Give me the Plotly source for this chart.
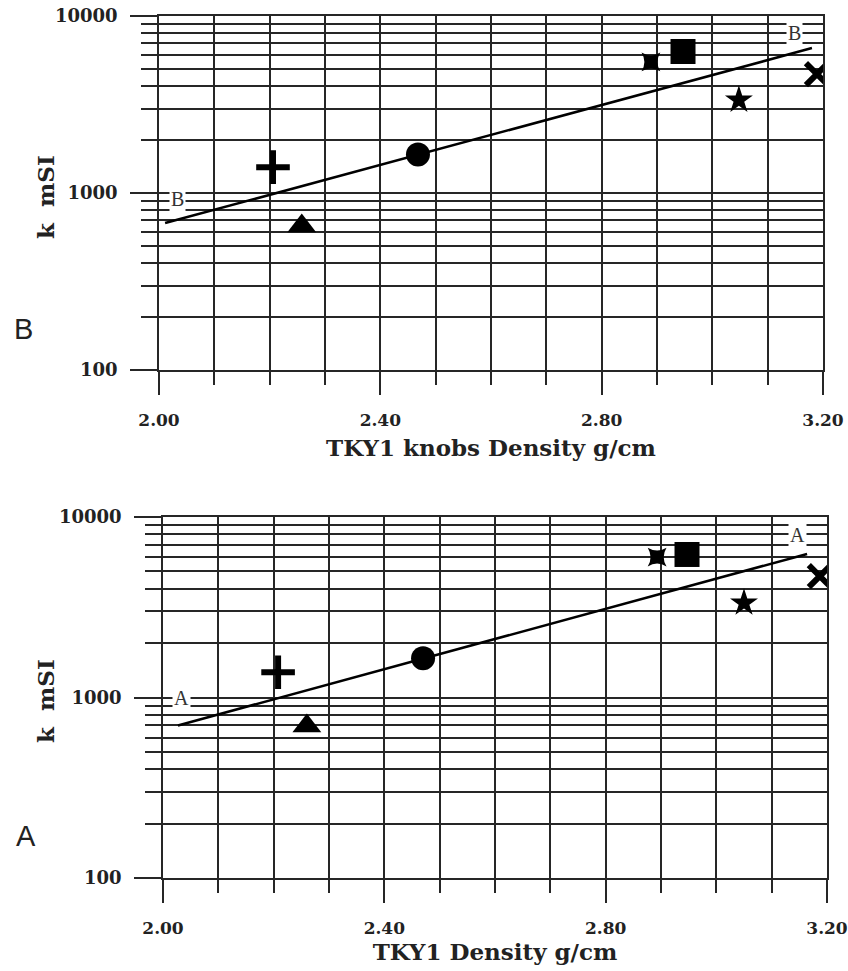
import plotly.graph_objects as go

# Magnetic susceptibility k (mSI) against density for the TKY1 samples
samples = ["plus", "triangle", "circle", "asterisk", "square", "star", "cross"]
symbols = ["cross-thin", "triangle-up", "circle", "star-diamond", "square", "star", "x-thin"]
sizes = [24, 25, 24, 19, 25, 21, 22]
angles = [0, 0, 0, 45, 0, 0, 0]
line_widths = [6, 0, 0, 0, 0, 0, 6]

# Panel B: knobs density
density_b = [2.206, 2.258, 2.468, 2.889, 2.947, 3.048, 3.189]
k_b = [1400, 650, 1650, 5500, 6300, 3350, 4700]
fit_b_x = [2.011, 3.180]
fit_b_k = [676, 6590]

# Panel A: whole-rock density
density_a = [2.208, 2.260, 2.470, 2.893, 2.947, 3.050, 3.187]
k_a = [1380, 695, 1650, 6000, 6200, 3340, 4700]
fit_a_x = [2.027, 3.164]
fit_a_k = [700, 6240]

x_ticks = [2.0, 2.4, 2.8, 3.2]
x_ticktext = ["2.00", "2.40", "2.80", "3.20"]
y_ticks = [100, 1000, 10000]
y_ticktext = ["100", "1000", "10000"]
y_minor = [m * 10 ** e for e in (2, 3) for m in range(2, 10)]

W, H = 848, 971
GRID = "#262626"
SERIF = "DejaVu Serif"

fig = go.Figure()


def add_panel(xa, ya, dens, k, fx, fk):
    for i, s in enumerate(samples):
        fig.add_trace(go.Scatter(
            x=[dens[i]], y=[k[i]], mode="markers", name=s, xaxis=xa, yaxis=ya,
            marker=dict(symbol=symbols[i], size=sizes[i], color="black", angle=angles[i],
                        line=dict(color="black", width=line_widths[i])),
            showlegend=False))
    fig.add_trace(go.Scatter(
        x=fx, y=fk, mode="lines", xaxis=xa, yaxis=ya, showlegend=False,
        line=dict(color="black", width=2.6)))


add_panel("x", "y", density_b, k_b, fit_b_x, fit_b_k)
add_panel("x2", "y2", density_a, k_a, fit_a_x, fit_a_k)

xtickfont = dict(family=SERIF, size=17, color="#222", weight="bold")
ytickfont = dict(family=SERIF, size=18, color="#222", weight="bold")
titlefont = dict(family=SERIF, size=23, color="#222", weight="bold")


def xaxis(domain, title, anchor, standoff):
    return dict(
        domain=domain, range=[2.0, 3.2], anchor=anchor, automargin=False,
        tickvals=x_ticks, ticktext=x_ticktext, ticks="outside", ticklen=23,
        tickwidth=1.6, tickcolor=GRID, tickfont=xtickfont, ticklabelstandoff=11,
        showgrid=True, gridcolor=GRID, gridwidth=1.6,
        minor=dict(dtick=0.1, tick0=2.0, ticks="outside", ticklen=13, tickwidth=1.6,
                   tickcolor=GRID, showgrid=True, gridcolor=GRID, gridwidth=1.6),
        showline=True, linecolor=GRID, linewidth=1.6, mirror=True, zeroline=False,
        title=dict(text=title, font=titlefont, standoff=standoff),
    )


def yaxis(domain, anchor):
    return dict(
        domain=domain, type="log", range=[2, 4], anchor=anchor, automargin=False,
        tickvals=y_ticks, ticktext=y_ticktext, ticks="outside", ticklen=27,
        tickwidth=1.6, tickcolor=GRID, tickfont=ytickfont, ticklabelstandoff=9,
        showgrid=True, gridcolor=GRID, gridwidth=1.6,
        minor=dict(tickvals=y_minor, ticks="outside", ticklen=16, tickwidth=1.6,
                   tickcolor=GRID, showgrid=True, gridcolor=GRID, gridwidth=1.6),
        showline=True, linecolor=GRID, linewidth=1.6, mirror=True, zeroline=False,
    )


# plot areas in pixels: top (159..823, 16..370), bottom (163..827, 517..878)
fig.update_layout(
    width=W, height=H, margin=dict(l=0, r=0, t=0, b=0, autoexpand=False),
    paper_bgcolor="white", plot_bgcolor="white",
    xaxis=xaxis([159 / W, 823 / W], "TKY1 knobs Density g/cm", "y", 11),
    yaxis=yaxis([1 - 370 / H, 1 - 16 / H], "x"),
    xaxis2=xaxis([163 / W, 827 / W], "TKY1 Density g/cm", "y2", 4),
    yaxis2=yaxis([1 - 878 / H, 1 - 517 / H], "x2"),
)

# vertical k titles beside each panel
for yc in (197, 701):
    fig.add_annotation(x=45 / W, y=1 - yc / H, xref="paper", yref="paper",
                       text="k\u00a0\u00a0mSI", textangle=-90, showarrow=False,
                       xanchor="center", yanchor="middle", font=titlefont)

curve_font = dict(family="Liberation Serif", size=20, color="#333")
labels = [
    ("x", "y", 2.034, 2.966, "B"), ("x", "y", 3.149, 3.904, "B"),
    ("x2", "y2", 2.034, 2.997, "A"), ("x2", "y2", 3.146, 3.900, "A"),
]
for xr, yr, lx, ly, t in labels:
    fig.add_annotation(x=lx, y=ly, xref=xr, yref=yr, text=t, showarrow=False,
                       font=curve_font, bgcolor="white", borderpad=1)

panel_font = dict(family="Liberation Sans", size=29, color="#222")
fig.add_annotation(x=23 / W, y=1 - 329 / H, xref="paper", yref="paper", text="B",
                   xanchor="center", yanchor="middle", showarrow=False, font=panel_font)
fig.add_annotation(x=26 / W, y=1 - 836 / H, xref="paper", yref="paper", text="A",
                   xanchor="center", yanchor="middle", showarrow=False, font=panel_font)

fig.write_html("out.html")
